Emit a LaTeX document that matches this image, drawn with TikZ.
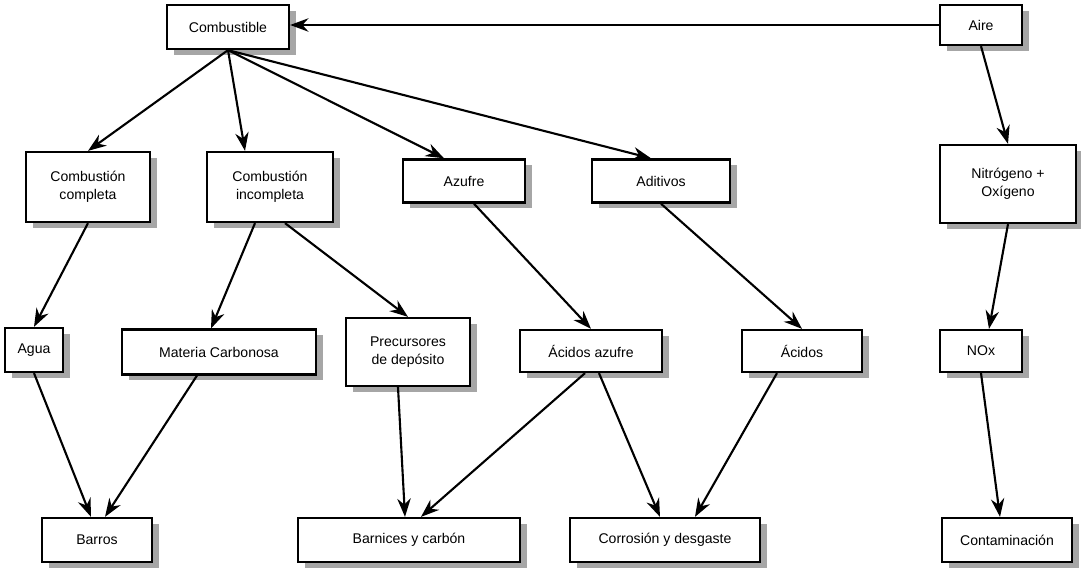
\documentclass[tikz,border=0pt]{standalone}
\usepackage{fontspec}
\setmainfont{Liberation Sans}
\usepackage{tikz}
\usetikzlibrary{
  arrows.meta,
  calc,
  shadows
}

\begin{document}
\begin{tikzpicture}[
    x=0.025cm, y=-0.025cm,
    box/.style={draw, line width=1.6pt, fill=white, align=center, inner sep=2pt,
      font=\fontsize{10}{12.5}\selectfont,
      drop shadow={shadow xshift=0.17cm, shadow yshift=-0.14cm, fill=black!35, opacity=1}},
    arr/.style={-{Stealth[length=13pt,width=9.5pt]}, line width=1.5pt}
  ]
    \useasboundingbox (0,0) rectangle (1081,573);
    % top row
    \node[box, minimum width=3.05cm, minimum height=1.1cm] (comb) at (228,27) {Combustible};
    \node[box, minimum width=2.05cm, minimum height=1cm] (aire) at (981,25) {Aire};
    % second row
    \node[box, minimum width=3.1cm, minimum height=1.75cm] (cc) at (88,187) {Combustión\\completa};
    \node[box, minimum width=3.15cm, minimum height=1.75cm] (ci) at (270,187) {Combustión\\incompleta};
    \node[box, minimum width=3.05cm, minimum height=1.08cm] (azu) at (464,181) {Azufre};
    \node[box, minimum width=3.45cm, minimum height=1.08cm] (adit) at (661,181) {Aditivos};
    \node[box, minimum width=3.4cm, minimum height=1.95cm] (nitro) at (1008,184) {Nitrógeno +\\Oxígeno};
    % third row
    \node[box, minimum width=1.45cm, minimum height=1.1cm] (agua) at (34,350) {Agua};
    \node[box, minimum width=4.85cm, minimum height=1.12cm] (mat) at (219,352) {Materia Carbonosa};
    \node[box, minimum width=3.1cm, minimum height=1.7cm] (prec) at (408,352) {Precursores\\de depósito};
    \node[box, minimum width=3.55cm, minimum height=1.05cm] (acaz) at (591,351) {Ácidos azufre};
    \node[box, minimum width=3cm, minimum height=1.05cm] (ac) at (802,351) {Ácidos};
    \node[box, minimum width=2.05cm, minimum height=1.05cm] (nox) at (981,351) {NOx};
    % bottom row
    \node[box, minimum width=2.75cm, minimum height=1.1cm] (barros) at (97,540) {Barros};
    \node[box, minimum width=5.55cm, minimum height=1.1cm] (barn) at (409,540) {Barnices y carbón};
    \node[box, minimum width=4.75cm, minimum height=1.1cm] (corr) at (665,540) {Corrosión y desgaste};
    \node[box, minimum width=3.25cm, minimum height=1.1cm] (cont) at (1007,540) {Contaminación};
    % arrows
    \draw[arr] (aire.west) -- (aire.west -| comb.east);
    \draw[arr] (comb.south) -- (cc.north);
    \draw[arr] (comb.south) -- ($(ci.north)+(-25,0)$);
    \draw[arr] (comb.south) -- ($(azu.north)+(-20,0)$);
    \draw[arr] (comb.south) -- ($(adit.north)+(-10,0)$);
    \draw[arr] (aire.south) -- (nitro.north);
    \draw[arr] (cc.south) -- (agua.north);
    \draw[arr] ($(ci.south)+(-15,0)$) -- ($(mat.north)+(-8,0)$);
    \draw[arr] ($(ci.south)+(15,0)$) -- (prec.north);
    \draw[arr] ($(azu.south)+(10,0)$) -- (acaz.north);
    \draw[arr] (adit.south) -- (ac.north);
    \draw[arr] (nitro.south) -- ($(nox.north)+(8,0)$);
    \draw[arr] (agua.south) -- ($(barros.north)+(-6,0)$);
    \draw[arr] ($(mat.south)+(-22,0)$) -- ($(barros.north)+(8,0)$);
    \draw[arr] ($(prec.south)+(-10,0)$) -- ($(barn.north)+(-4,0)$);
    \draw[arr] ($(acaz.south)+(-6,0)$) -- ($(barn.north)+(12,0)$);
    \draw[arr] ($(acaz.south)+(8,0)$) -- ($(corr.north)+(-5,0)$);
    \draw[arr] ($(ac.south)+(-25,0)$) -- ($(corr.north)+(30,0)$);
    \draw[arr] (nox.south) -- ($(cont.north)+(-7,0)$);
\end{tikzpicture}
\end{document}
